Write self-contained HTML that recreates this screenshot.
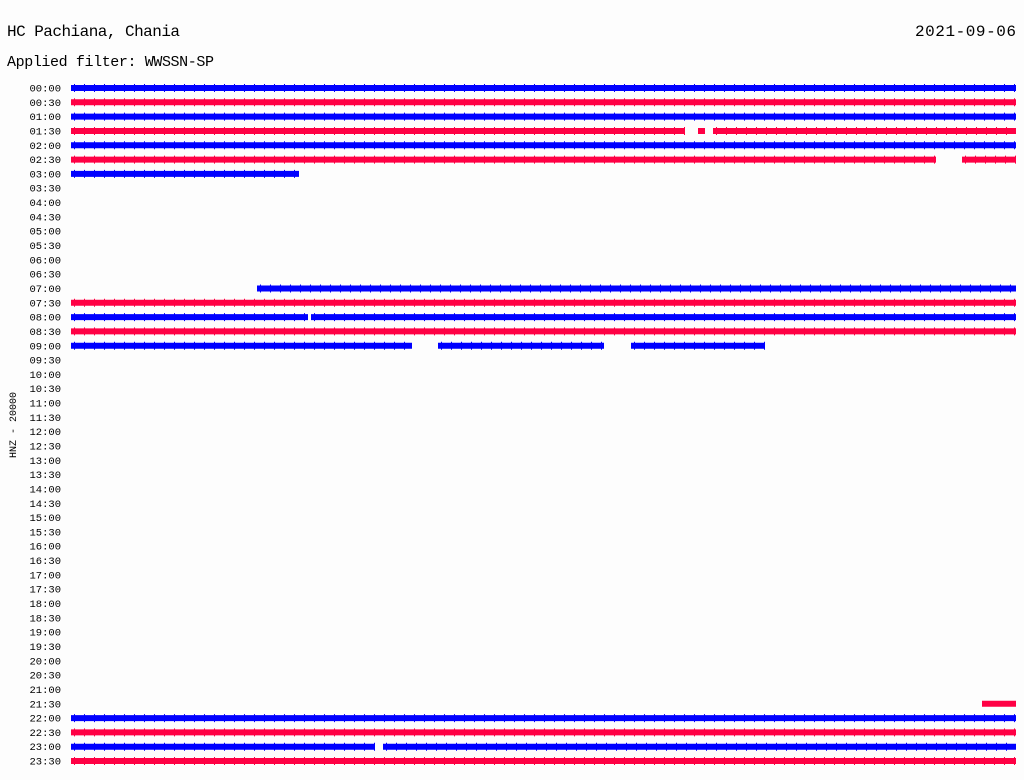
<!DOCTYPE html>
<html><head><style>
html,body{margin:0;padding:0;background:#fdfdfd;}
svg{display:block;}
text{font-family:"Liberation Mono",monospace;fill:#000;}
</style></head><body>
<svg width="1024" height="780" xmlns="http://www.w3.org/2000/svg">
<rect width="1024" height="780" fill="#fdfdfd"/>
<text x="7" y="36" font-size="16" textLength="173">HC Pachiana, Chania</text>
<text x="7" y="66" font-size="15" textLength="207">Applied filter: WWSSN-SP</text>
<text x="915" y="36" font-size="16" textLength="101">2021-09-06</text>
<text transform="translate(16,425) rotate(-90)" font-size="10" text-anchor="middle">HNZ - 20000</text>
<g font-size="10.5" text-anchor="end">
<text x="61" y="91.5">00:00</text><text x="61" y="105.8">00:30</text><text x="61" y="120.1">01:00</text><text x="61" y="134.5">01:30</text>
<text x="61" y="148.8">02:00</text><text x="61" y="163.1">02:30</text><text x="61" y="177.4">03:00</text><text x="61" y="191.7">03:30</text>
<text x="61" y="206.1">04:00</text><text x="61" y="220.4">04:30</text><text x="61" y="234.7">05:00</text><text x="61" y="249">05:30</text>
<text x="61" y="263.3">06:00</text><text x="61" y="277.7">06:30</text><text x="61" y="292">07:00</text><text x="61" y="306.3">07:30</text>
<text x="61" y="320.6">08:00</text><text x="61" y="334.9">08:30</text><text x="61" y="349.3">09:00</text><text x="61" y="363.6">09:30</text>
<text x="61" y="377.9">10:00</text><text x="61" y="392.2">10:30</text><text x="61" y="406.5">11:00</text><text x="61" y="420.9">11:30</text>
<text x="61" y="435.2">12:00</text><text x="61" y="449.5">12:30</text><text x="61" y="463.8">13:00</text><text x="61" y="478.1">13:30</text>
<text x="61" y="492.5">14:00</text><text x="61" y="506.8">14:30</text><text x="61" y="521.1">15:00</text><text x="61" y="535.4">15:30</text>
<text x="61" y="549.7">16:00</text><text x="61" y="564.1">16:30</text><text x="61" y="578.4">17:00</text><text x="61" y="592.7">17:30</text>
<text x="61" y="607">18:00</text><text x="61" y="621.3">18:30</text><text x="61" y="635.7">19:00</text><text x="61" y="650">19:30</text>
<text x="61" y="664.3">20:00</text><text x="61" y="678.6">20:30</text><text x="61" y="692.9">21:00</text><text x="61" y="707.3">21:30</text>
<text x="61" y="721.6">22:00</text><text x="61" y="735.9">22:30</text><text x="61" y="750.2">23:00</text><text x="61" y="764.5">23:30</text>
</g>
<g stroke-width="6" fill="none">
<path stroke="#0000ff" d="M71 88H1016M71 116.6H1016M71 145.3H1016M71 173.9H299M257 288.5H1016M71 317.1H308M311 317.1H1016M71 345.8H412M438 345.8H604M631 345.8H765M71 718.1H1016M71 746.7H375M383 746.7H1016"/>
<path stroke="#ff0044" d="M71 102.3H1016M71 131H685M698 131H705M713 131H1016M71 159.6H936M962 159.6H1016M71 302.8H1016M71 331.4H1016M982 703.8H1016M71 732.4H1016M71 761H1016"/>
</g>
<g stroke-width="8" fill="none" stroke-dasharray="1 9">
<path stroke="#0000ff" d="M74 88H1016M74 116.6H1016M74 145.3H1016M74 173.9H299M260 288.5H1016M74 317.1H1016M74 345.8H412M441 345.8H604M634 345.8H765M74 718.1H1016M74 746.7H375M386 746.7H1016"/>
<path stroke="#ff0044" d="M74 102.3H1016M74 131H685M716 131H1016M74 159.6H936M965 159.6H1016M74 302.8H1016M74 331.4H1016M74 732.4H1016M74 761H1016"/>
</g>
</svg>
</body></html>
